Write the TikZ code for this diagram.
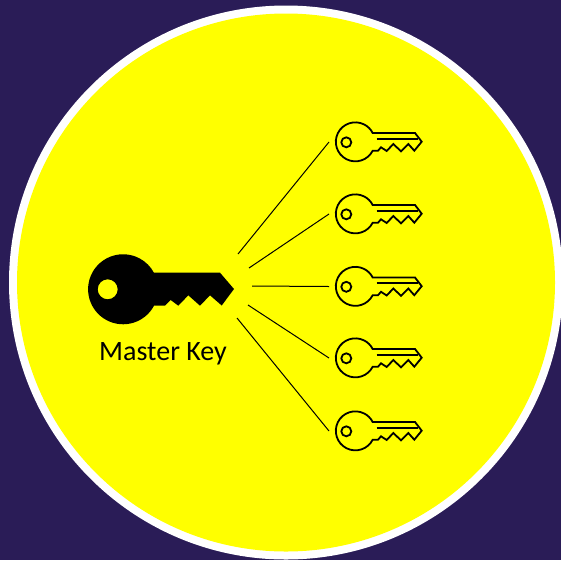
\documentclass[tikz,border=0pt]{standalone}
\usepackage{fontspec}
\setmainfont{Carlito}
\definecolor{bgpurple}{RGB}{42,28,87}
\definecolor{discyellow}{RGB}{255,255,0}
\definecolor{discwhite}{RGB}{255,255,255}
\begin{document}
\begin{tikzpicture}[x=1pt,y=-1pt,
  keyline/.style={draw=black,line width=1.8pt,line join=miter},
  link/.style={draw=black,line width=1pt}]
\useasboundingbox (0,0) rectangle (561,560);
\fill[bgpurple] (0,0) rectangle (561,560);
\fill[discwhite] (286,282.5) circle[radius=277];
\fill[discyellow] (286,282.5) circle[radius=269];
% master key
\fill[black,even odd rule]
  (154,272.7) -- (220,272.7) -- (234,289) -- (221.7,305.5) -- (210,295.3) -- (200,305.7)
  -- (188.3,295.3) -- (178.3,305.7) -- (170.7,300) -- (165,305.7) -- (154,305.7)
  arc[start angle=28,end angle=332,radius=35] -- cycle
  (107.7,289.3) circle[radius=10];
\node[font=\fontsize{28}{32}\selectfont,text=black,inner sep=0pt] (label) at (163,353.5) {Master Key};
% small keys
\foreach \n/\dy in {a/0,b/72,c/144.5,d/216,e/289}{
  \begin{scope}[yshift=-\dy pt]
    \draw[keyline]
      (372.7,133) -- (415,133) -- (421.7,141.7) -- (414.3,150.7) -- (408.3,144) -- (401,151.3)
      -- (393.3,144) -- (386.7,151) -- (381,147.3) -- (378,150.7) -- (372.7,150.7)
      arc[start angle=27,end angle=333,radius=19.5] -- cycle;
    \draw[keyline] (376.7,138.7) -- (418,138.7);
    \draw[keyline] (346.3,142.3) circle[radius=5];
    \coordinate (k\n) at (329,142);
  \end{scope}
}
\coordinate (ma) at (238,254);
\coordinate (mb) at (249,268);
\coordinate (mc) at (252,286);
\coordinate (md) at (248,305);
\coordinate (me) at (237,318);
\foreach \n in {a,b,c,d,e}{\draw[link] (m\n) -- (k\n);}
\end{tikzpicture}
\end{document}
